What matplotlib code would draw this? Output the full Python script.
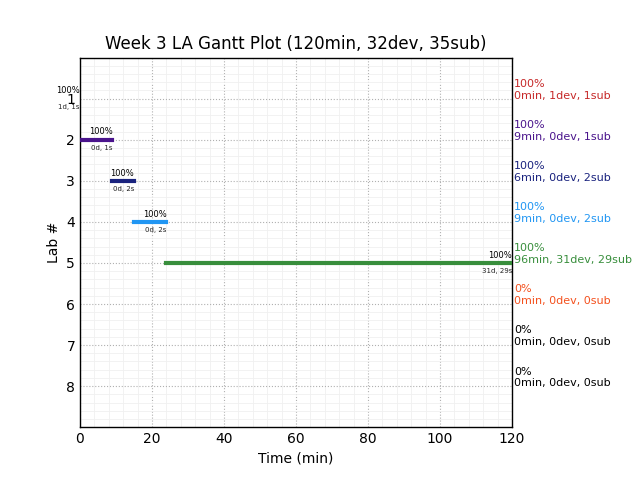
import matplotlib
matplotlib.use("Agg")
import matplotlib.pyplot as plt
from matplotlib.ticker import AutoMinorLocator

labs = [1, 2, 3, 4, 5, 6, 7, 8]
starts = [0, 0, 9, 15, 24, 0, 0, 0]
durations = [0, 9, 6, 9, 96, 0, 0, 0]
devs = [1, 0, 0, 0, 31, 0, 0, 0]
subs = [1, 1, 2, 2, 29, 0, 0, 0]
pcts = [100, 100, 100, 100, 100, 0, 0, 0]
colors = ["#c62828", "#4a148c", "#1a237e", "#2196f3", "#388e3c", "#f4511e", "#000000", "#000000"]
has_bar = [True, True, True, True, True, False, False, False]
title = "Week 3 LA Gantt Plot (120min, 32dev, 35sub)"

fig = plt.figure(figsize=(6.4, 4.8), dpi=100)
ax = fig.add_axes([0.125, 0.11, 0.675, 0.77])

for lab, s, d, dv, sb, p, c, hb in zip(labs, starts, durations, devs, subs, pcts, colors, has_bar):
    if hb:
        ax.plot([s, s + d], [lab, lab], color=c, linewidth=3, solid_capstyle="projecting", zorder=3)
        ax.text(s + d, lab - 0.08, f"{p}%", ha="right", va="bottom", fontsize=6, color="black")
        ax.text(s + d, lab + 0.12, f"{dv}d, {sb}s", ha="right", va="top", fontsize=5, color="#222222")
    ax.text(1.005, lab, f"{p}%\n{d}min, {dv}dev, {sb}sub", transform=ax.get_yaxis_transform(),
            ha="left", va="baseline", fontsize=8, color=c, clip_on=False)

ax.set_xlim(0, 120)
ax.set_ylim(9, 0)
ax.set_yticks(labs)
ax.set_xticks([0, 20, 40, 60, 80, 100, 120])
ax.xaxis.set_minor_locator(AutoMinorLocator(5))
ax.yaxis.set_minor_locator(AutoMinorLocator(5))
ax.grid(which="major", color="#b0b0b0", linestyle=":", linewidth=0.8)
ax.grid(which="minor", color="#f0f0f0", linestyle="-", linewidth=0.6)
ax.set_axisbelow(True)
ax.tick_params(which="both", length=0, labelsize=10)
for sp in ax.spines.values():
    sp.set_color("black")
    sp.set_linewidth(1)
ax.set_xlabel("Time (min)", fontsize=10)
ax.set_ylabel("Lab #", fontsize=10)
ax.set_title(title, fontsize=12)

fig.savefig("out.png", dpi=100)
